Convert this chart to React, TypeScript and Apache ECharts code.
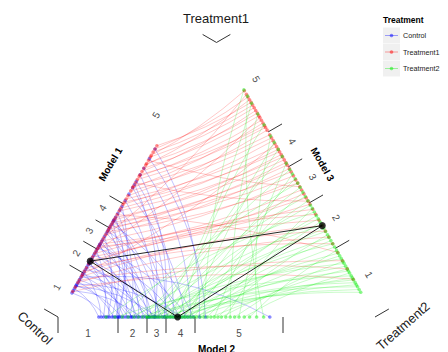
import { useEffect, useRef } from "react";
import * as echarts from "echarts";

// ---------------- DATA (scores on a 1–5 scale, each observation rated by two models) ----------------
const treatments = ["Control", "Treatment1", "Treatment2"];
const axisNames = ["Model 1", "Model 2", "Model 3"];
const tickLabels = ["1", "2", "3", "4", "5"];
const tickValues = [1, 2, 3, 4, 5];

// Control: Model 1 vs Model 2
const controlModel1 = [1.05, 1.1, 1.15, 1.2, 1.22, 1.25, 1.3, 1.35, 1.4, 1.45, 1.48, 1.55, 1.65, 1.75, 1.85, 1.9, 1.95, 2.05, 2.15, 2.25, 2.35, 2.45, 2.55, 2.65, 2.7, 2.75, 2.85, 2.95, 3.1, 3.25, 3.35, 3.45, 3.55, 3.65, 3.75, 3.8, 3.85, 3.95, 4.1, 4.25, 4.4, 4.52, 4.56, 4.6, 4.62, 4.64, 4.68, 4.72, 4.78, 4.84];
const controlModel2 = [1.3, 2.3, 1.18, 3.05, 1.62, 4.05, 1.43, 2.0, 5.35, 1.85, 2.65, 1.22, 3.65, 1.7, 2.46, 1.97, 1.36, 2.85, 1.55, 3.85, 2.15, 1.26, 4.25, 2.38, 1.49, 3.3, 2.08, 2.6, 1.33, 2.75, 3.95, 1.78, 2.22, 4.45, 1.4, 3.15, 2.55, 1.52, 1.92, 3.55, 1.46, 2.95, 4.15, 3.45, 2.9, 3.75, 3.4, 4.35, 4.62, 4.55];

// Treatment1: Model 1 vs Model 3
const treatment1Model1 = [1.08, 1.18, 1.28, 1.34, 1.42, 1.47, 1.58, 1.72, 1.88, 2.02, 2.18, 2.32, 2.42, 2.52, 2.62, 2.74, 2.88, 3.02, 3.18, 3.32, 3.42, 3.52, 3.62, 3.72, 3.82, 3.92, 4.05, 4.2, 4.32, 4.47, 4.51, 4.53, 4.55, 4.58, 4.6, 4.61, 4.63, 4.65, 4.67, 4.68, 4.7, 4.72, 4.74, 4.75, 4.77, 4.79, 4.8, 4.82, 4.84, 4.86];
const treatment1Model3 = [1.32, 1.05, 1.75, 1.2, 2.0, 4.16, 1.88, 1.6, 2.36, 2.12, 2.75, 2.25, 4.66, 2.86, 2.47, 2.64, 3.14, 4.92, 3.45, 3.05, 3.62, 3.25, 3.55, 3.36, 3.85, 3.7, 1.44, 3.78, 4.0, 4.25, 3.93, 4.08, 4.52, 4.33, 4.6, 4.42, 2.55, 4.55, 4.63, 4.57, 4.74, 4.68, 4.86, 4.71, 2.95, 4.77, 4.96, 4.8, 4.89, 4.83];

// Treatment2: Model 2 vs Model 3
const treatment2Model2 = [1.3, 1.45, 1.65, 1.85, 2.05, 2.2, 2.35, 2.48, 2.52, 2.6, 2.7, 2.8, 2.9, 3.0, 3.1, 3.2, 3.32, 3.44, 3.52, 3.58, 3.64, 3.7, 3.76, 3.82, 3.88, 3.94, 4.0, 4.06, 4.12, 4.18, 4.25, 4.32, 4.4, 4.47, 4.52, 4.56, 4.6, 4.64, 4.68, 4.72, 4.76, 4.8, 4.85, 4.9, 4.95, 5.0, 5.06, 5.12, 5.2, 5.28];
const treatment2Model3 = [2.3, 1.1, 3.05, 1.28, 2.01, 0.94, 4.2, 1.6, 2.68, 1.0, 1.87, 3.42, 1.35, 2.45, 0.86, 4.82, 1.74, 2.93, 1.17, 2.15, 3.8, 0.9, 1.94, 2.56, 1.43, 4.58, 1.04, 2.22, 3.17, 1.24, 1.67, 4.0, 0.97, 2.8, 1.53, 1.39, 4.97, 2.08, 1.07, 3.3, 1.8, 1.2, 2.38, 4.7, 1.31, 3.6, 1.14, 1.47, 4.38, 4.9];

// Overall centre scores (black triangle): Model 1, Model 2, Model 3
const centreScores = [2.0, 3.9, 2.0];

// ---------------- LAYOUT ----------------
const FONT = "'Liberation Sans', Arial, Helvetica, sans-serif";
const COLORS = ["#0000ff", "#ff0000", "#00ee00"];
const CURVE = [0.15, 0.06, 0.07];
const LINE_OPACITY = [0.3, 0.27, 0.27];
const BL = [58, 317];
const BR = [375, 317];
const TOP = [216.5, 42.5];
const CENTROID = [(BL[0] + BR[0] + TOP[0]) / 3, (BL[1] + BR[1] + TOP[1]) / 3];
const S3 = Math.sqrt(3) / 2;

type AxisDef = { o: number[]; d: number[]; n: number[]; breaks: number[]; rot: number };
// breaks: category boundaries (0.5,1.5,..,5.5) as distances along the side, in px
const AXES: AxisDef[] = [
  { o: BL, d: [0.5, -S3], n: [-S3, -0.5], breaks: [0, 50.7, 78.3, 102.9, 130.7, 317], rot: Math.PI / 3 },
  { o: BL, d: [1, 0], n: [0, 1], breaks: [0, 60, 89, 108, 137, 225], rot: 0 },
  { o: BR, d: [-0.5, -S3], n: [S3, -0.5], breaks: [0, 79.3, 131.7, 173.4, 213.7, 317], rot: -Math.PI / 3 },
];

function along(ax: AxisDef, v: number): number {
  let i = Math.floor(v - 0.5);
  if (i < 0) i = 0;
  if (i > 4) i = 4;
  const f = v - 0.5 - i;
  return ax.breaks[i] + f * (ax.breaks[i + 1] - ax.breaks[i]);
}
function pointAt(ax: AxisDef, s: number, off = 0): number[] {
  return [ax.o[0] + ax.d[0] * s + ax.n[0] * off, ax.o[1] + ax.d[1] * s + ax.n[1] * off];
}
function pos(axisIndex: number, v: number, off = 0): number[] {
  const ax = AXES[axisIndex];
  return pointAt(ax, along(ax, v), off);
}

function curvenessFor(p1: number[], p2: number[], c: number): number {
  const mx = (p1[0] + p2[0]) / 2;
  const my = (p1[1] + p2[1]) / 2;
  const cpA = [mx - (p1[1] - p2[1]) * c, my - (p2[0] - p1[0]) * c];
  const cpB = [mx + (p1[1] - p2[1]) * c, my + (p2[0] - p1[0]) * c];
  const dA = Math.hypot(cpA[0] - CENTROID[0], cpA[1] - CENTROID[1]);
  const dB = Math.hypot(cpB[0] - CENTROID[0], cpB[1] - CENTROID[1]);
  return dA < dB ? c : -c;
}

function pairLines(axA: number, valsA: number[], axB: number, valsB: number[], c: number) {
  return valsA.map((a, i) => {
    const p1 = pos(axA, a);
    const p2 = pos(axB, valsB[i]);
    return { coords: [p1, p2], lineStyle: { curveness: curvenessFor(p1, p2, c) } };
  });
}
function pairPoints(axA: number, valsA: number[], axB: number, valsB: number[]) {
  return [...valsA.map((v) => pos(axA, v)), ...valsB.map((v) => pos(axB, v))];
}

function buildOption(): any {
  const groupsDef = [
    { a: 0, va: controlModel1, b: 1, vb: controlModel2 },
    { a: 0, va: treatment1Model1, b: 2, vb: treatment1Model3 },
    { a: 1, va: treatment2Model2, b: 2, vb: treatment2Model3 },
  ];
  const series: any[] = [];
  groupsDef.forEach((g, gi) => {
    series.push({
      type: "lines",
      name: treatments[gi] + " links",
      coordinateSystem: "cartesian2d",
      silent: true,
      z: 1,
      lineStyle: { color: COLORS[gi], width: 0.8, opacity: LINE_OPACITY[gi] },
      data: pairLines(g.a, g.va, g.b, g.vb, CURVE[gi]),
    });
  });
  groupsDef.forEach((g, gi) => {
    series.push({
      type: "scatter",
      name: treatments[gi],
      z: 3,
      symbolSize: 3.6,
      itemStyle: { color: COLORS[gi], opacity: 0.45 },
      data: pairPoints(g.a, g.va, g.b, g.vb),
    });
  });
  const c = centreScores.map((v, i) => pos(i, v));
  series.push({
    type: "lines",
    coordinateSystem: "cartesian2d",
    silent: true,
    z: 4,
    lineStyle: { color: "#000", width: 1, opacity: 0.85, curveness: 0 },
    data: [
      { coords: [c[0], c[1]] },
      { coords: [c[0], c[2]] },
      { coords: [c[1], c[2]] },
    ],
  });
  series.push({
    type: "scatter",
    z: 5,
    symbolSize: 7,
    itemStyle: { color: "#000" },
    data: c,
  });

  const graphics: any[] = [];
  // ticks, tick labels, axis titles
  AXES.forEach((ax, ai) => {
    ax.breaks.forEach((b) => {
      const p0 = pointAt(ax, b, 0);
      const p1 = pointAt(ax, b, 16);
      graphics.push({
        type: "line",
        silent: true,
        shape: { x1: p0[0], y1: p0[1], x2: p1[0], y2: p1[1] },
        style: { stroke: "#333", lineWidth: 1 },
      });
    });
    tickValues.forEach((v, ti) => {
      const p = pos(ai, v, 16);
      graphics.push({
        type: "text",
        x: p[0],
        y: p[1],
        rotation: ax.rot,
        silent: true,
        style: {
          text: tickLabels[ti],
          font: `10px ${FONT}`,
          fill: "#4d4d4d",
          align: "center",
          verticalAlign: "middle",
          textAlign: "center",
          textVerticalAlign: "middle",
        },
      });
    });
    const mid = pointAt(ax, 317 / 2, ai === 1 ? 32 : 31);
    graphics.push({
      type: "text",
      x: mid[0],
      y: mid[1],
      rotation: ax.rot,
      silent: true,
      style: {
        text: axisNames[ai],
        font: `bold 10px ${FONT}`,
        fill: "#000",
        align: "center",
        verticalAlign: "middle",
        textAlign: "center",
        textVerticalAlign: "middle",
      },
    });
  });
  // corner titles
  const corners = [
    { t: treatments[1], x: 216, y: 18, r: 0 },
    { t: treatments[0], x: 35, y: 328, r: -0.75 },
    { t: treatments[2], x: 403, y: 326, r: 0.72 },
  ];
  corners.forEach((cn) => {
    graphics.push({
      type: "text",
      x: cn.x,
      y: cn.y,
      rotation: cn.r,
      silent: true,
      style: {
        text: cn.t,
        font: `13px ${FONT}`,
        fill: "#1a1a1a",
        align: "center",
        verticalAlign: "middle",
        textAlign: "center",
        textVerticalAlign: "middle",
      },
    });
  });
  // legend
  graphics.push({
    type: "text",
    x: 383,
    y: 20,
    silent: true,
    style: {
      text: "Treatment",
      font: `bold 8.5px ${FONT}`,
      fill: "#000",
      align: "left",
      verticalAlign: "middle",
      textAlign: "left",
      textVerticalAlign: "middle",
    },
  });
  const keyY = [35.5, 52, 68.5];
  treatments.forEach((t, i) => {
    const cy = keyY[i];
    graphics.push({
      type: "rect",
      silent: true,
      shape: { x: 383, y: cy - 8, width: 17, height: 16 },
      style: { fill: "#f0f0f0" },
    });
    graphics.push({
      type: "line",
      silent: true,
      shape: { x1: 385, y1: cy, x2: 398, y2: cy },
      style: { stroke: COLORS[i], lineWidth: 0.8, opacity: 0.45 },
    });
    graphics.push({
      type: "circle",
      silent: true,
      shape: { cx: 391.5, cy, r: 1.8 },
      style: { fill: COLORS[i], opacity: 0.5 },
    });
    graphics.push({
      type: "text",
      x: 403,
      y: cy,
      silent: true,
      style: {
        text: t,
        font: `7.2px ${FONT}`,
        fill: "#1a1a1a",
        align: "left",
        verticalAlign: "middle",
        textAlign: "left",
        textVerticalAlign: "middle",
      },
    });
  });

  return {
    animation: false,
    backgroundColor: "#fff",
    grid: { left: 0, right: 0, top: 0, bottom: 0, containLabel: false, outerBoundsMode: "none" },
    xAxis: { type: "value", min: 0, max: 448, show: false },
    yAxis: { type: "value", min: 0, max: 352, inverse: true, show: false },
    series,
    graphic: graphics,
  };
}

export default function App() {
  const ref = useRef<HTMLDivElement>(null);
  useEffect(() => {
    if (!ref.current) return;
    const chart = echarts.init(ref.current, undefined, { renderer: "svg" });
    chart.setOption(buildOption());
    return () => chart.dispose();
  }, []);
  return (
    <div
      ref={ref}
      style={{ position: "absolute", left: 0, top: 0, width: 448, height: 352 }}
    />
  );
}
